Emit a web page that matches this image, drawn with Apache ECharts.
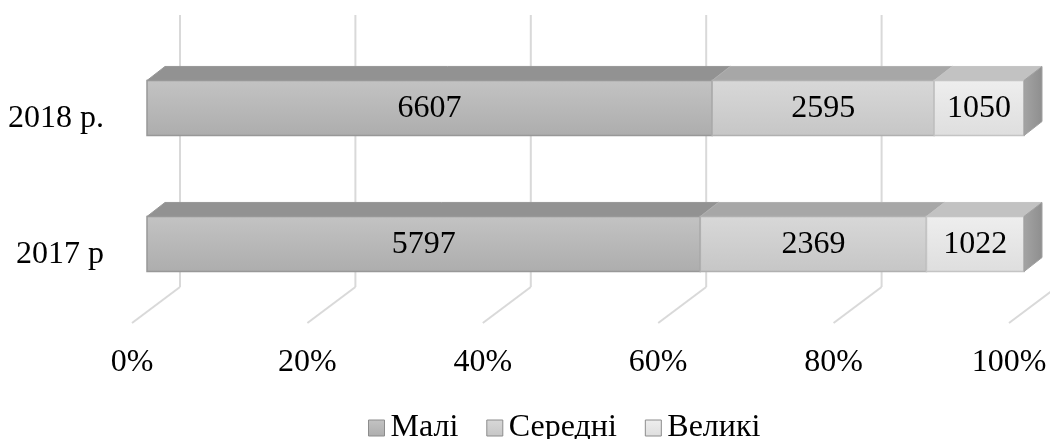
<!DOCTYPE html>
<html>
<head>
<meta charset="utf-8">
<script src="https://cdn.jsdelivr.net/npm/echarts@6/dist/echarts.min.js"></script>
<style>
  html, body { margin: 0; padding: 0; background: #fff; }
  #chart { width: 1050px; height: 439px; }
</style>
</head>
<body>
<div id="chart"></div>
<script>
// дані
const categories = ['2017 р', '2018 р.'];
const seriesNames = ['Малі', 'Середні', 'Великі'];
const mali = [5797, 6607];
const seredni = [2369, 2595];
const velyki = [1022, 1050];
const ticks = [0, 20, 40, 60, 80, 100];

const DX = 18, DY = -14; // глибина бару
const FONT = '"Liberation Serif", "Times New Roman", serif';
const FS = 32;

function grad(c1, c2) {
  return new echarts.graphic.LinearGradient(0, 0, 0, 1, [
    { offset: 0, color: c1 },
    { offset: 1, color: c2 }
  ]);
}

const faces = [
  { front: ['#c3c3c3', '#adadad'], top: '#929292', stroke: '#989898' },
  { front: ['#d8d8d8', '#c6c6c6'], top: '#a7a7a7', stroke: '#b0b0b0' },
  { front: ['#eeeeee', '#dedede'], top: '#c2c2c2', stroke: '#c4c4c4' }
];

const raw = [mali, seredni, velyki];
const totals = categories.map((c, i) => mali[i] + seredni[i] + velyki[i]);

// відсоткові відрізки
function segData(k) {
  return categories.map((c, i) => {
    let start = 0;
    for (let j = 0; j < k; j++) start += raw[j][i] / totals[i] * 100;
    const end = start + raw[k][i] / totals[i] * 100;
    return [start, end, i, raw[k][i]];
  });
}

function makeBar(k) {
  const f = faces[k];
  const isLast = k === raw.length - 1;
  return {
    name: seriesNames[k],
    type: 'custom',
    coordinateSystem: 'cartesian2d',
    encode: { x: [0, 1], y: 2 },
    itemStyle: { color: grad(f.front[0], f.front[1]), borderColor: '#8c8c8c', borderWidth: 1 },
    z: 5,
    data: segData(k),
    renderItem: function (params, api) {
      const p0 = api.coord([api.value(0), api.value(2)]);
      const p1 = api.coord([api.value(1), api.value(2)]);
      const h = api.size([0, 1])[1] * 0.405;
      const x0 = p0[0], x1 = p1[0];
      const yT = p0[1] - h / 2, yB = p0[1] + h / 2;
      const children = [
        {
          type: 'polygon',
          shape: { points: [[x0, yT], [x1, yT], [x1 + DX, yT + DY], [x0 + DX, yT + DY]] },
          style: { fill: f.top, stroke: f.stroke, lineWidth: 1 }
        },
        {
          type: 'rect',
          shape: { x: x0, y: yT, width: x1 - x0, height: yB - yT },
          style: { fill: grad(f.front[0], f.front[1]), stroke: f.stroke, lineWidth: 1.5 }
        },
        {
          type: 'text',
          style: {
            text: String(api.value(3)),
            x: (x0 + x1) / 2, y: (yT + yB) / 2 + 1,
            align: 'center', verticalAlign: 'middle',
            font: FS + 'px ' + FONT, fill: '#000'
          }
        }
      ];
      if (isLast) {
        children.push({
          type: 'polygon',
          shape: { points: [[x1, yT], [x1 + DX, yT + DY], [x1 + DX, yB + DY], [x1, yB]] },
          style: {
            fill: new echarts.graphic.LinearGradient(0, 0, 1, 0, [
              { offset: 0, color: '#a4a4a4' },
              { offset: 1, color: '#8e8e8e' }
            ]),
            stroke: '#a0a0a0', lineWidth: 1
          }
        });
      }
      return { type: 'group', children: children };
    }
  };
}

// стінка та підлога
const wallSeries = {
  name: 'wall',
  type: 'custom',
  coordinateSystem: 'cartesian2d',
  encode: { x: 0, y: 1 },
  silent: true,
  z: 1,
  data: ticks.map(t => [t, 0]),
  renderItem: function (params, api) {
    const cs = params.coordSys;
    const x = api.coord([api.value(0), 0])[0];
    const top = cs.y - 25, back = cs.y + cs.height - 25, front = cs.y + cs.height + 11;
    const st = { stroke: '#d9d9d9', lineWidth: 2 };
    return {
      type: 'group',
      children: [
        { type: 'line', shape: { x1: x + 33, y1: top, x2: x + 33, y2: back }, style: st },
        { type: 'line', shape: { x1: x + 33, y1: back, x2: x - 15, y2: front }, style: st }
      ]
    };
  }
};

const chart = echarts.init(document.getElementById('chart'));
chart.setOption({
  animation: false,
  backgroundColor: '#fff',
  grid: { left: 147, right: 26, top: 40, bottom: 127, containLabel: false },
  legend: {
    data: seriesNames,
    left: 363,
    top: 407,
    icon: 'rect',
    itemWidth: 16,
    itemHeight: 16,
    itemGap: 28,
    itemStyle: { borderColor: '#8c8c8c', borderWidth: 1 },
    textStyle: { fontSize: FS, fontFamily: FONT, color: '#000', padding: [0, 0, 0, 1] }
  },
  xAxis: {
    type: 'value',
    min: 0, max: 100, interval: 20,
    axisLine: { show: false },
    axisTick: { show: false },
    splitLine: { show: false },
    axisLabel: {
      formatter: '{value}%',
      fontSize: FS, fontFamily: FONT, color: '#000',
      margin: 35,
      padding: [0, 30, 0, 0]
    }
  },
  yAxis: {
    type: 'category',
    data: categories,
    axisLine: { show: false },
    axisTick: { show: false },
    splitLine: { show: false },
    axisLabel: {
      formatter: '{c|{value}}',
      margin: 43,
      rich: {
        c: { fontSize: FS, fontFamily: FONT, color: '#000', padding: [22, 0, 0, 0] }
      }
    }
  },
  series: [wallSeries, makeBar(0), makeBar(1), makeBar(2)]
});
</script>
</body>
</html>
